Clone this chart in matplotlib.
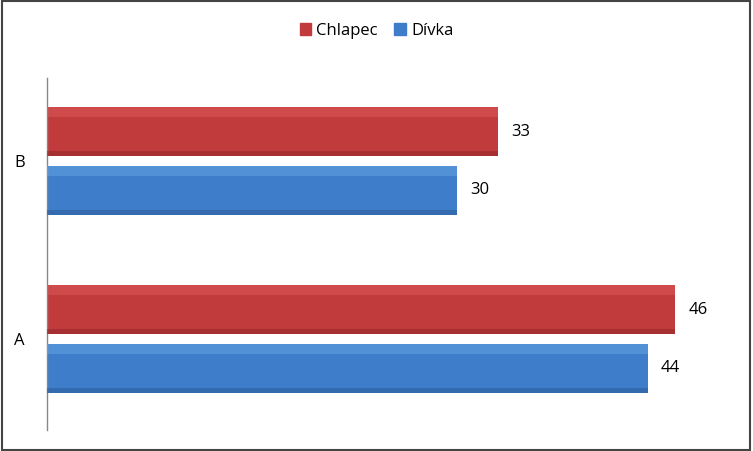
import matplotlib
matplotlib.use("Agg")
import matplotlib.pyplot as plt
from matplotlib.patches import Rectangle
import numpy as np

categories = ["A", "B"]
chlapec = [46, 33]
divka = [44, 30]
series_names = ["Chlapec", "Dívka"]

plt.rcParams['font.family'] = ['Open Sans', 'DejaVu Sans']

fig = plt.figure(figsize=(7.53, 4.51), dpi=100)
ax = fig.add_axes([47/753, 1-430/451, (730-47)/753, (430-78)/451])

y = np.arange(len(categories))
h = 0.275
off = 0.165

red, red_hi, red_dk = "#C13A3C", "#E46464", "#8A2527"
blue, blue_hi, blue_dk = "#3E7DC9", "#74B0EE", "#2A5A94"

def bevel_bars(ypos, vals, base, hi, dk):
    ax.barh(ypos, vals, height=h, color=base, zorder=2)
    ax.barh(ypos + h*0.40, vals, height=h*0.20, color=hi, alpha=0.4, zorder=3)
    ax.barh(ypos - h*0.45, vals, height=h*0.10, color=dk, alpha=0.5, zorder=3)

bevel_bars(y + off, chlapec, red, red_hi, red_dk)
bevel_bars(y - off, divka, blue, blue_hi, blue_dk)

for yi, v in zip(y + off, chlapec):
    ax.text(v + 0.95, yi, str(v), va="center", ha="left", fontsize=12, color="black")
for yi, v in zip(y - off, divka):
    ax.text(v + 0.95, yi, str(v), va="center", ha="left", fontsize=12, color="black")

ax.set_xlim(0, 50)
ax.set_ylim(-0.511, 1.466)
ax.set_yticks(y)
ax.set_yticklabels(categories, fontsize=12)
ax.tick_params(axis="y", length=0, pad=20)
for lbl in ax.get_yticklabels():
    lbl.set_horizontalalignment("center")
ax.set_xticks([])
for s in ["top", "right", "bottom"]:
    ax.spines[s].set_visible(False)
ax.spines["left"].set_color("#888888")
ax.spines["left"].set_linewidth(1)

handles = [Rectangle((0, 0), 1, 1, color=red), Rectangle((0, 0), 1, 1, color=blue)]
fig.legend(handles, series_names, loc="center", bbox_to_anchor=(0.5, 1-31/451),
           ncol=2, frameon=False, fontsize=12, handlelength=0.7, handleheight=0.7,
           handletextpad=0.3, columnspacing=1.0)

fig.patches.append(Rectangle((0.002, 0.003), 0.994, 0.994, transform=fig.transFigure,
                             fill=False, edgecolor="#444444", linewidth=1.5))

fig.savefig("out.png", dpi=100)
